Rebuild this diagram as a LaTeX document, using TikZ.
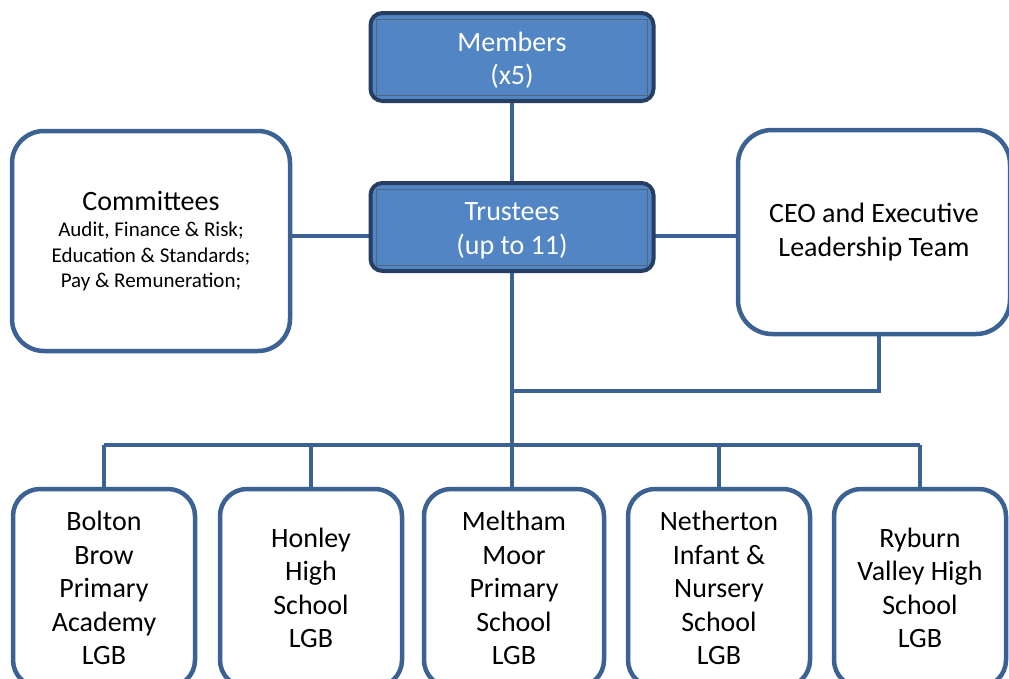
\documentclass[tikz,border=0pt]{standalone}
\usepackage{fontspec}
\setmainfont{Carlito}
\definecolor{lineblue}{RGB}{60,98,148}
\definecolor{fillblue}{RGB}{82,133,195}
\definecolor{darkrim}{RGB}{38,62,98}
\newcommand\subfont{\fontsize{21}{25.5}\selectfont}
\newcommand\bigfont{\fontsize{28}{33.5}\selectfont}
\tikzset{
  box/.style={draw=lineblue, line width=4.5pt, fill=white, rounded corners=27pt,
    inner sep=0pt, align=center, font=\bigfont},
  topbox/.style={draw=darkrim, line width=4pt, fill=fillblue, rounded corners=12pt,
    minimum width=283pt, minimum height=88pt, inner sep=0pt},
  toptext/.style={align=center, text=white, inner sep=0pt, font=\bigfont},
  rim/.style={draw=darkrim!80, line width=1pt},
  link/.style={draw=lineblue, line width=4pt}
}
\begin{document}
\begin{tikzpicture}[x=1pt,y=-1pt]
\useasboundingbox (0,0) rectangle (1009,678);
\clip (0,0) rectangle (1009,678);
\fill[white] (0,0) rectangle (1009,678);

\node[box, font=\subfont, minimum width=278pt, minimum height=220pt, rounded corners=32pt] (committees) at (151,241)
  {{\bigfont Committees}\\[1pt]Audit, Finance \& Risk;\\Education \& Standards;\\Pay \& Remuneration;};
\node[box, minimum width=272pt, minimum height=204pt, rounded corners=34pt] (ceo) at (874,232)
  {CEO and Executive\\Leadership Team};

\node[box, minimum width=182pt, minimum height=198pt] (bolton) at (104,588)
  {Bolton\\Brow\\Primary\\Academy\\LGB};
\node[box, minimum width=182pt, minimum height=198pt] (honley) at (311,588)
  {Honley\\High\\School\\LGB};
\node[box, minimum width=180pt, minimum height=198pt] (meltham) at (514,588)
  {Meltham\\Moor\\Primary\\School\\LGB};
\node[box, minimum width=182pt, minimum height=198pt] (netherton) at (719,588)
  {Netherton\\Infant \&\\Nursery\\School\\LGB};
\node[box, minimum width=172pt, minimum height=198pt] (ryburn) at (920,588)
  {Ryburn\\Valley High\\School\\LGB};

\coordinate (bus) at (512,445);
\coordinate (join) at (512,391);

\draw[link] (512,100) -- (512,185);
\draw[link] (372,236) -- (committees.east |- 0,236);
\draw[link] (653,236) -- (ceo.west |- 0,236);
\draw[link] (512,270) -- (bus);
\draw[link] ([xshift=5pt]ceo.south) |- (join);
\draw[link] (bolton.north |- bus) -- (ryburn.north |- bus);
\draw[link] (bolton.north |- bus) -- (bolton.north);
\draw[link] (honley.north |- bus) -- (honley.north);
\draw[link] (bus) -- (bus |- meltham.north);
\draw[link] (netherton.north |- bus) -- (netherton.north);
\draw[link] (ryburn.north |- bus) -- (ryburn.north);

\node[topbox] (members) at (512,57) {};
\draw[rim] ([shift={(8pt,-8pt)}]members.north west) rectangle ([shift={(-8pt,8pt)}]members.south east);
\node[toptext] (members-text) at ([yshift=-3pt]members.center) {Members\\(x5)};
\node[topbox] (trustees) at (512,227) {};
\draw[rim] ([shift={(8pt,-8pt)}]trustees.north west) rectangle ([shift={(-8pt,8pt)}]trustees.south east);
\node[toptext] (trustees-text) at ([yshift=-4pt]trustees.center) {Trustees\\(up to 11)};
\end{tikzpicture}
\end{document}
